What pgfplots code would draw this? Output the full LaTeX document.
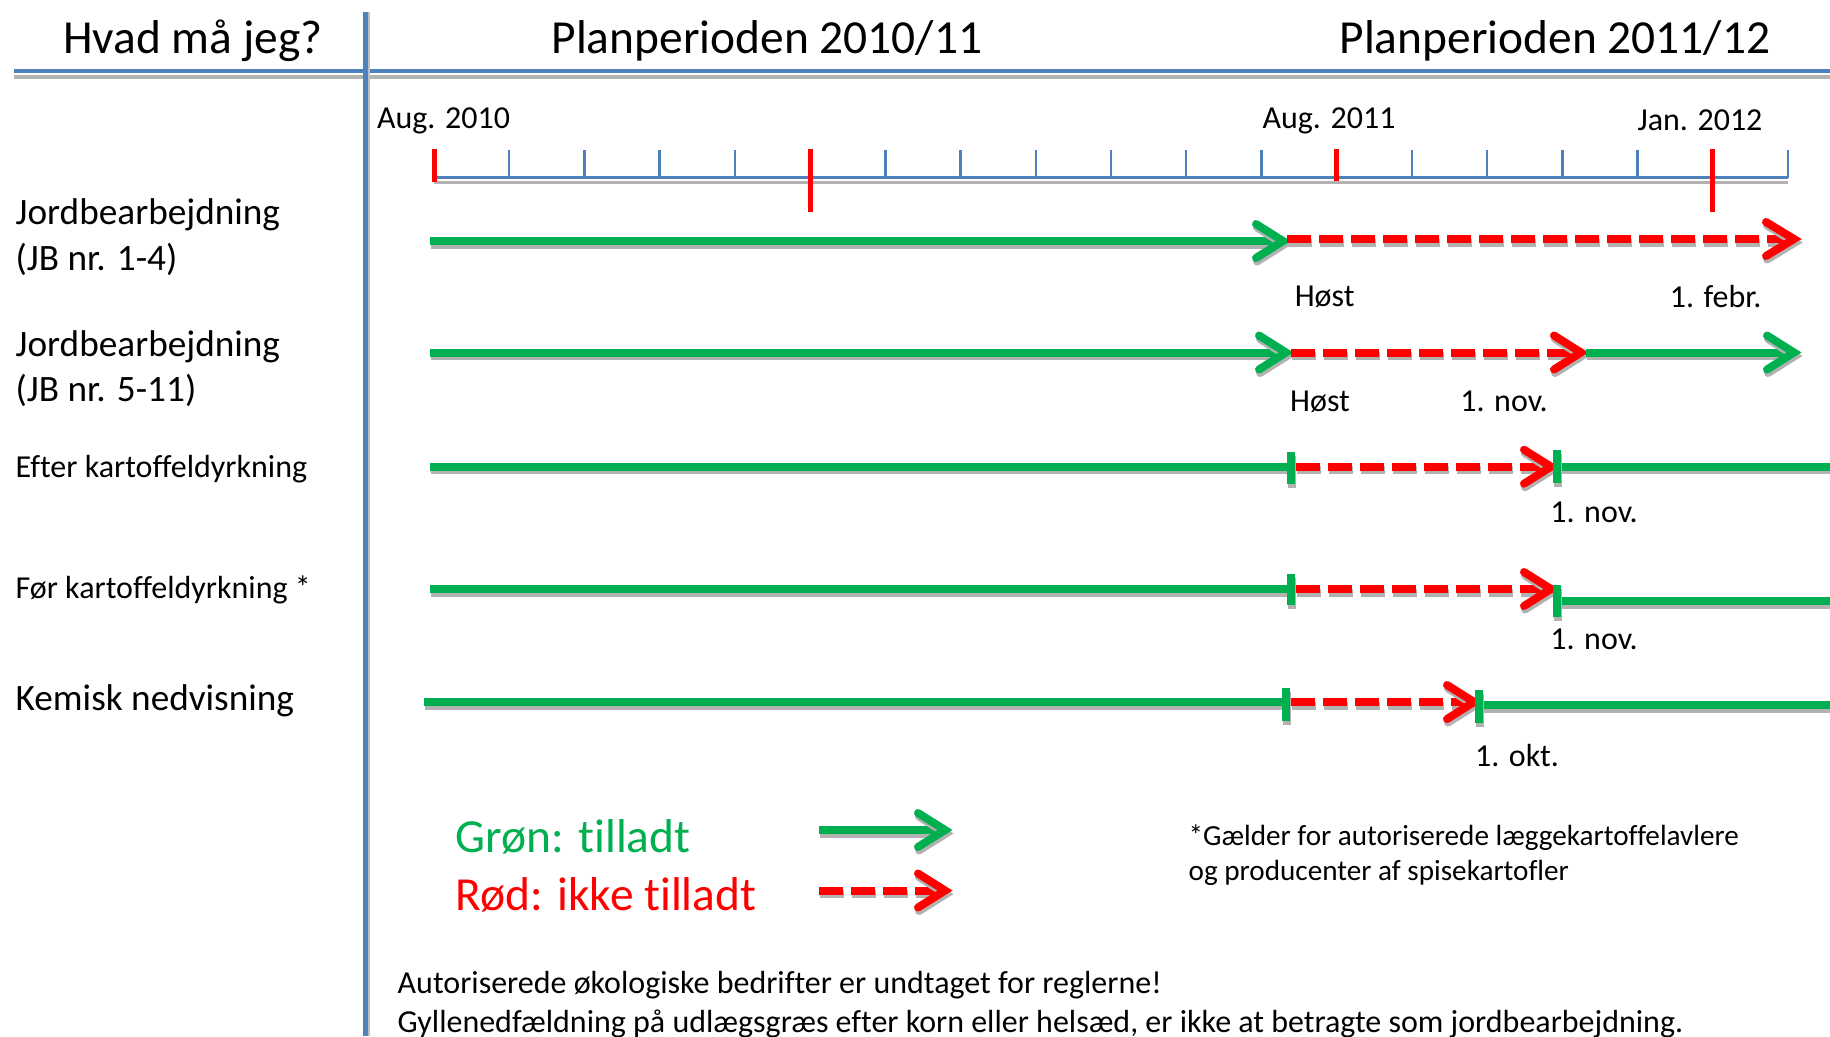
\documentclass[border=0pt]{standalone}
\usepackage{pgfplots}
\pgfplotsset{compat=1.18}
\usepackage{fontspec}
\setmainfont{Carlito}[Ligatures={NoCommon,NoDiscretionary,NoRare}]
\definecolor{offgreen}{HTML}{00B050}
\definecolor{offblue}{HTML}{4F81BD}
\definecolor{offred}{HTML}{FF0000}
\tikzset{
  gsh/.style={preaction={draw=gray!60, line width=0.8mm, transform canvas={xshift=0.1mm,yshift=-0.35mm}}},
  rsh/.style={preaction={draw=gray!60, line width=0.8mm, dash pattern=on 2.4mm off 0.8mm, transform canvas={xshift=0.1mm,yshift=-0.35mm}}},
  gline/.style={offgreen, line width=0.8mm, gsh},
  gchev/.style={offgreen, line width=0.8mm, line join=miter, line cap=round, gsh},
  rline/.style={offred, line width=0.8mm, dash pattern=on 2.4mm off 0.8mm, rsh},
  rchev/.style={offred, line width=0.8mm, line join=miter, line cap=round, gsh},
  bar/.style={offgreen, line width=0.75mm, gsh},
  lt/.style={anchor=west, inner sep=0pt},
}
\begin{document}
\begin{tikzpicture}
\begin{pgfinterruptboundingbox}
\begin{axis}[at={(0,0)}, anchor=south west, hide axis, scale only axis,
  width=183mm, height=103.6mm, xmin=0, xmax=1830, ymin=0, ymax=1036,
  y dir=reverse, clip=false, unbounded coords=jump]
% header lines
\addplot[draw=gray!60, line width=0.4mm] coordinates {(14,77) (1830,77)};
\addplot[draw=offblue, line width=0.4mm] coordinates {(14,70.5) (1830,70.5)};
\addplot[draw=gray!50, line width=0.3mm] coordinates {(368,12) (368,1036)};
\addplot[draw=offblue, line width=0.5mm] coordinates {(365,12) (365,1036)};
% timeline
\addplot[draw=gray!60, line width=0.3mm] coordinates {(434,182) (1788,182)};
\addplot[draw=offblue, line width=0.35mm] coordinates {(434,177.5) (1788,177.5)};
\addplot[draw=offblue, line width=0.25mm] coordinates {
 (509.2,150) (509.2,178) (509.2,nan)
 (584.4,150) (584.4,178) (584.4,nan)
 (659.7,150) (659.7,178) (659.7,nan)
 (734.9,150) (734.9,178) (734.9,nan)
 (885.3,150) (885.3,178) (885.3,nan)
 (960.5,150) (960.5,178) (960.5,nan)
 (1035.8,150) (1035.8,178) (1035.8,nan)
 (1111.0,150) (1111.0,178) (1111.0,nan)
 (1186.2,150) (1186.2,178) (1186.2,nan)
 (1261.4,150) (1261.4,178) (1261.4,nan)
 (1411.9,150) (1411.9,178) (1411.9,nan)
 (1487.1,150) (1487.1,178) (1487.1,nan)
 (1562.3,150) (1562.3,178) (1562.3,nan)
 (1637.5,150) (1637.5,178) (1637.5,nan)
 (1788.0,150) (1788.0,178)};
\addplot[draw=offred, line width=0.5mm] coordinates {
 (434.0,149) (434.0,182) (434.0,nan)
 (810.1,149) (810.1,212) (810.1,nan)
 (1336.6,149) (1336.6,181) (1336.6,nan)
 (1712.7,149) (1712.7,212)};
% row 1
\addplot[gline] coordinates {(429.5,241) (1282,241)};
\addplot[gchev] coordinates {(1256,224) (1283,241) (1256,258)};
\addplot[rline] coordinates {(1287,239) (1790,239)};
\addplot[rchev] coordinates {(1766,222) (1794,239) (1766,256)};
% row 2
\addplot[gline] coordinates {(429.5,352.5) (1285,352.5)};
\addplot[gchev] coordinates {(1259,335.5) (1286,352.5) (1259,369.5)};
\addplot[rline] coordinates {(1291,352.5) (1578,352.5)};
\addplot[rchev] coordinates {(1554,335.5) (1581,352.5) (1554,369.5)};
\addplot[gline] coordinates {(1586,352.5) (1790,352.5)};
\addplot[gchev] coordinates {(1767,335.5) (1794,352.5) (1767,369.5)};
% row 3
\addplot[gline] coordinates {(429.5,466.7) (1291,466.7)};
\addplot[rline] coordinates {(1296,466.7) (1548,466.7)};
\addplot[rchev] coordinates {(1524,449.7) (1551,466.7) (1524,483.7)};
\addplot[gline] coordinates {(1557,466.7) (1830,466.7)};
\addplot[bar] coordinates {(1291,452) (1291,484)};
\addplot[bar] coordinates {(1557,450) (1557,483)};
% row 4
\addplot[gline] coordinates {(429.5,589) (1291,589)};
\addplot[rline] coordinates {(1296,589) (1548,589)};
\addplot[rchev] coordinates {(1524,572) (1551,589) (1524,606)};
\addplot[gline] coordinates {(1557,601) (1830,601)};
\addplot[bar] coordinates {(1291,574) (1291,605)};
\addplot[bar] coordinates {(1557,585) (1557,617)};
% row 5
\addplot[gline] coordinates {(423.7,702) (1286,702)};
\addplot[rline] coordinates {(1291,702) (1470,702)};
\addplot[rchev] coordinates {(1447,685) (1474,702) (1447,719)};
\addplot[gline] coordinates {(1479,705) (1830,705)};
\addplot[bar] coordinates {(1286,688) (1286,721)};
\addplot[bar] coordinates {(1479,690) (1479,723)};
% legend arrows
\addplot[gline] coordinates {(819,830) (942,830)};
\addplot[gchev] coordinates {(918,813) (945,830) (918,847)};
\addplot[rline] coordinates {(819,890.5) (942,890.5)};
\addplot[rchev] coordinates {(918,873.5) (945,890.5) (918,907.5)};
% texts
\node[font=\fontsize{13.5}{16}\selectfont] at (axis cs:193,41) {Hvad må jeg?};
\node[font=\fontsize{13.5}{16}\selectfont] at (axis cs:767,41) {Planperioden 2010/11};
\node[font=\fontsize{13.5}{16}\selectfont] at (axis cs:1555,41) {Planperioden 2011/12};
\node[font=\fontsize{9.1}{11}\selectfont] at (axis cs:443.5,120.5) {Aug. 2010};
\node[font=\fontsize{9.1}{11}\selectfont] at (axis cs:1329,120.5) {Aug. 2011};
\node[font=\fontsize{9.1}{11}\selectfont] at (axis cs:1700,120.5) {Jan. 2012};
\node[font=\fontsize{10.6}{12}\selectfont, lt] at (axis cs:15,215) {Jordbearbejdning};
\node[font=\fontsize{10.6}{12}\selectfont, lt] at (axis cs:15,259.5) {(JB nr. 1-4)};
\node[font=\fontsize{10.6}{12}\selectfont, lt] at (axis cs:15,347) {Jordbearbejdning};
\node[font=\fontsize{10.6}{12}\selectfont, lt] at (axis cs:15,390) {(JB nr. 5-11)};
\node[font=\fontsize{9.1}{11}\selectfont, lt] at (axis cs:15,469.5) {Efter kartoffeldyrkning};
\node[font=\fontsize{9.1}{11}\selectfont, lt] at (axis cs:15,589.5) {Før kartoffeldyrkning *};
\node[font=\fontsize{10.6}{12}\selectfont, lt] at (axis cs:15,700.5) {Kemisk nedvisning};
\node[font=\fontsize{9.1}{11}\selectfont] at (axis cs:1324.6,296.5) {Høst};
\node[font=\fontsize{9.1}{11}\selectfont] at (axis cs:1715.6,296.5) {1. febr.};
\node[font=\fontsize{9.1}{11}\selectfont] at (axis cs:1320,401.5) {Høst};
\node[font=\fontsize{9.1}{11}\selectfont] at (axis cs:1504,401.5) {1. nov.};
\node[font=\fontsize{9.1}{11}\selectfont] at (axis cs:1594,512.5) {1. nov.};
\node[font=\fontsize{9.1}{11}\selectfont] at (axis cs:1594,639.5) {1. nov.};
\node[font=\fontsize{9.1}{11}\selectfont] at (axis cs:1517,755.5) {1. okt.};
\node[font=\fontsize{13.5}{16}\selectfont, lt, text=offgreen] at (axis cs:455,836.5) {Grøn: tilladt};
\node[font=\fontsize{13.5}{16}\selectfont, lt, text=offred] at (axis cs:455,894.8) {Rød: ikke tilladt};
\node[font=\fontsize{8.3}{10}\selectfont, lt] at (axis cs:1188,837.6) {*Gælder for autoriserede læggekartoffelavlere};
\node[font=\fontsize{8.3}{10}\selectfont, lt] at (axis cs:1188,872.7) {og producenter af spisekartofler};
\node[font=\fontsize{9.1}{11}\selectfont, lt] at (axis cs:397,985) {Autoriserede økologiske bedrifter er undtaget for reglerne!};
\node[font=\fontsize{9.1}{11}\selectfont, lt] at (axis cs:397,1023.5) {Gyllenedfældning på udlægsgræs efter korn eller helsæd, er ikke at betragte som jordbearbejdning.};
\end{axis}
\end{pgfinterruptboundingbox}
\useasboundingbox (0,0) rectangle (183mm,103.6mm);
\end{tikzpicture}
\end{document}
